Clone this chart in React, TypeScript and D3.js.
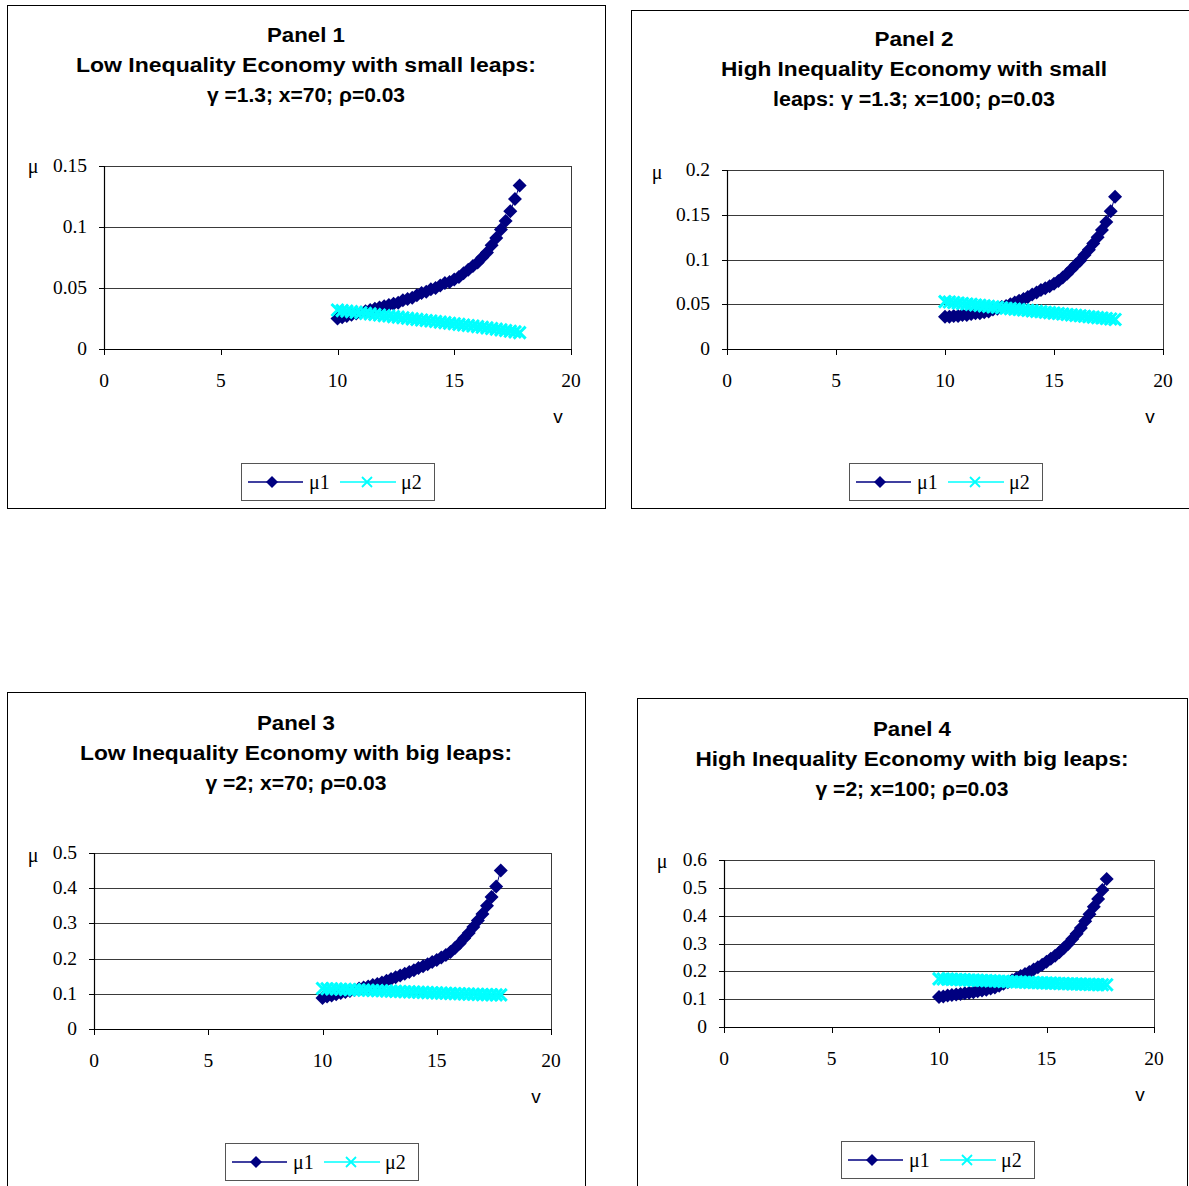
import React, { useEffect } from 'react';
import * as d3 from 'd3';

// v grid shared by every panel
const vValues = [
  10, 10.2, 10.4, 10.6, 10.8, 11, 11.2, 11.4, 11.6, 11.8,
  12, 12.2, 12.4, 12.6, 12.8, 13, 13.2, 13.4, 13.6, 13.8,
  14, 14.2, 14.4, 14.6, 14.8, 15, 15.2, 15.4, 15.6, 15.8,
  16, 16.2, 16.4, 16.6, 16.8, 17, 17.2, 17.4, 17.6, 17.8,
];

const p1Mu1 = [
  0.025, 0.026, 0.027, 0.028, 0.029, 0.030, 0.031, 0.032, 0.033, 0.034,
  0.035, 0.036, 0.037, 0.038, 0.040, 0.041, 0.042, 0.044, 0.046, 0.047,
  0.049, 0.050, 0.052, 0.054, 0.055, 0.057, 0.059, 0.062, 0.065, 0.068,
  0.071, 0.075, 0.079, 0.085, 0.091, 0.098, 0.105, 0.113, 0.123, 0.134,
];
const p1Mu2 = [
  0.032, 0.0315, 0.031, 0.0306, 0.0301, 0.0297, 0.0292, 0.0288, 0.0283, 0.0279,
  0.0274, 0.027, 0.0265, 0.0261, 0.0256, 0.0252, 0.0247, 0.0243, 0.0238, 0.0234,
  0.0229, 0.0225, 0.022, 0.0216, 0.0211, 0.0207, 0.0202, 0.0197, 0.0193, 0.0188,
  0.0183, 0.0178, 0.0173, 0.0168, 0.0163, 0.0157, 0.0152, 0.0146, 0.014, 0.0134,
];

const p2Mu1 = [
  0.036, 0.036, 0.037, 0.037, 0.038, 0.038, 0.039, 0.040, 0.040, 0.041,
  0.042, 0.044, 0.045, 0.047, 0.048, 0.050, 0.052, 0.054, 0.056, 0.058,
  0.061, 0.063, 0.066, 0.068, 0.070, 0.073, 0.076, 0.080, 0.084, 0.089,
  0.094, 0.099, 0.105, 0.111, 0.118, 0.125, 0.133, 0.142, 0.154, 0.170,
];
const p2Mu2 = [
  0.053, 0.0525, 0.052, 0.0514, 0.0509, 0.0503, 0.0498, 0.0492, 0.0487, 0.0482,
  0.0476, 0.0471, 0.0466, 0.0461, 0.0456, 0.0451, 0.0446, 0.0441, 0.0436, 0.0431,
  0.0426, 0.0421, 0.0416, 0.0411, 0.0406, 0.0401, 0.0396, 0.0391, 0.0386, 0.0381,
  0.0376, 0.0371, 0.0366, 0.0361, 0.0356, 0.0351, 0.0346, 0.0341, 0.0335, 0.033,
];

const p3Mu1 = [
  0.088, 0.092, 0.095, 0.099, 0.102, 0.105, 0.108, 0.111, 0.115, 0.118,
  0.121, 0.125, 0.128, 0.132, 0.137, 0.142, 0.147, 0.152, 0.157, 0.162,
  0.167, 0.173, 0.178, 0.184, 0.190, 0.196, 0.203, 0.210, 0.219, 0.230,
  0.243, 0.258, 0.273, 0.290, 0.308, 0.327, 0.350, 0.375, 0.405, 0.450,
];
const p3Mu2 = [
  0.115, 0.1145, 0.114, 0.1135, 0.113, 0.1125, 0.112, 0.1115, 0.111, 0.1105,
  0.110, 0.1095, 0.109, 0.1085, 0.108, 0.1075, 0.107, 0.1065, 0.106, 0.1055,
  0.105, 0.1045, 0.104, 0.1035, 0.103, 0.1025, 0.102, 0.1015, 0.101, 0.1005,
  0.100, 0.0995, 0.099, 0.0986, 0.0982, 0.0978, 0.0975, 0.0972, 0.097, 0.0968,
];

const p4Mu1 = [
  0.108, 0.110, 0.113, 0.115, 0.117, 0.119, 0.121, 0.123, 0.125, 0.128,
  0.131, 0.134, 0.138, 0.142, 0.148, 0.155, 0.161, 0.168, 0.175, 0.183,
  0.190, 0.198, 0.207, 0.215, 0.224, 0.234, 0.245, 0.256, 0.269, 0.283,
  0.298, 0.316, 0.335, 0.356, 0.380, 0.405, 0.432, 0.460, 0.492, 0.532,
];
const p4Mu2 = [
  0.173, 0.1724, 0.1718, 0.1712, 0.1706, 0.17, 0.1694, 0.1688, 0.1682, 0.1676,
  0.167, 0.1664, 0.1658, 0.1652, 0.1646, 0.164, 0.1634, 0.1628, 0.1622, 0.1616,
  0.161, 0.1604, 0.1598, 0.1592, 0.1586, 0.158, 0.1575, 0.157, 0.1565, 0.156,
  0.1555, 0.155, 0.1545, 0.154, 0.1536, 0.1532, 0.1528, 0.1524, 0.152, 0.1516,
];

const xTicks = [0, 5, 10, 15, 20];
const seriesNames = ['μ1', 'μ2'];

const titles = [
  ['Panel 1', 'Low Inequality Economy with small leaps:', 'γ =1.3; x=70; ρ=0.03'],
  ['Panel 2', 'High Inequality Economy with small', 'leaps: γ =1.3; x=100; ρ=0.03'],
  ['Panel 3', 'Low Inequality Economy with big leaps:', 'γ =2; x=70; ρ=0.03'],
  ['Panel 4', 'High Inequality Economy with big leaps:', 'γ =2; x=100; ρ=0.03'],
];
const yTickSets = [
  [0, 0.05, 0.1, 0.15],
  [0, 0.05, 0.1, 0.15, 0.2],
  [0, 0.1, 0.2, 0.3, 0.4, 0.5],
  [0, 0.1, 0.2, 0.3, 0.4, 0.5, 0.6],
];
const mu1Sets = [p1Mu1, p2Mu1, p3Mu1, p4Mu1];
const mu2Sets = [p1Mu2, p2Mu2, p3Mu2, p4Mu2];

// layout of each panel (pixels)
const layouts = [
  { box: [7, 5, 598, 503], plot: [104, 166, 571, 349], cx: 306, ty: 42, titleW: [78, 460, 198], legend: [241, 463], v: [558, 423], mu: [33, 173] },
  { box: [631, 10, 570, 498], plot: [727, 170, 1163, 349], cx: 914, ty: 46, titleW: [79, 386, 282], legend: [849, 463], v: [1150, 423], mu: [657, 179] },
  { box: [7, 692, 578, 520], plot: [94, 853, 551, 1029], cx: 296, ty: 730, titleW: [78, 432, 181], legend: [225, 1143], v: [536, 1103], mu: [33, 862] },
  { box: [637, 698, 550, 520], plot: [724, 860, 1154, 1027], cx: 912, ty: 736, titleW: [78, 433, 193], legend: [841, 1141], v: [1140, 1101], mu: [662, 868] },
];

const NAVY = '#000080';
const CYAN = '#00ffff';
const SANS = '"Liberation Sans", Arial, sans-serif';
const SERIF = '"Liberation Serif", "Times New Roman", serif';

const diamond = (x: number, y: number, r: number) =>
  `M${x},${y - r}L${x + r},${y}L${x},${y + r}L${x - r},${y}Z`;
const cross = (x: number, y: number, r: number) =>
  `M${x - r},${y - r}L${x + r},${y + r}M${x - r},${y + r}L${x + r},${y - r}`;

function Panel({ idx }: { idx: number }) {
  const L = layouts[idx];
  const [left, top, right, bottom] = L.plot;
  const yTicks = yTickSets[idx];
  const xScale = d3.scaleLinear().domain([0, 20]).range([left, right]);
  const yScale = d3
    .scaleLinear()
    .domain([0, yTicks[yTicks.length - 1]])
    .range([bottom, top]);
  const mu1 = vValues.map((v, i) => [v, mu1Sets[idx][i]] as [number, number]);
  const mu2 = vValues.map((v, i) => [v, mu2Sets[idx][i]] as [number, number]);
  const line = d3
    .line<[number, number]>()
    .x((d) => xScale(d[0]))
    .y((d) => yScale(d[1]));
  const [lx, ly] = L.legend;

  return (
    <g>
      <rect x={L.box[0] + 0.5} y={L.box[1] + 0.5} width={L.box[2]} height={L.box[3]} fill="#fff" stroke="#000" strokeWidth={1} />
      {titles[idx].map((t, i) => (
        <text key={i} x={L.cx} y={L.ty + i * 30} textAnchor="middle" fontFamily={SANS} fontWeight="bold" fontSize={20} textLength={L.titleW[i]} lengthAdjust="spacingAndGlyphs">
          {t}
        </text>
      ))}
      {/* grid + plot border */}
      {yTicks.slice(1).map((t) => (
        <line key={t} x1={left} x2={right} y1={Math.round(yScale(t)) + 0.5} y2={Math.round(yScale(t)) + 0.5} stroke="#3a3a3a" strokeWidth={1} />
      ))}
      <line x1={right + 0.5} x2={right + 0.5} y1={top} y2={bottom} stroke="#3a3a3a" strokeWidth={1} />
      {/* axes */}
      <line x1={left + 0.5} x2={left + 0.5} y1={top} y2={bottom + 1} stroke="#000" strokeWidth={1.2} />
      <line x1={left} x2={right + 1} y1={bottom + 0.5} y2={bottom + 0.5} stroke="#000" strokeWidth={1.2} />
      {yTicks.map((t) => (
        <g key={t}>
          <line x1={left - 5} x2={left} y1={Math.round(yScale(t)) + 0.5} y2={Math.round(yScale(t)) + 0.5} stroke="#000" />
          <text x={left - 17} y={yScale(t) + 6} textAnchor="end" fontFamily={SERIF} fontSize={19.5}>
            {String(+t.toFixed(2))}
          </text>
        </g>
      ))}
      {xTicks.map((t) => (
        <g key={t}>
          <line x1={Math.round(xScale(t)) + 0.5} x2={Math.round(xScale(t)) + 0.5} y1={bottom} y2={bottom + 6} stroke="#000" />
          <text x={xScale(t)} y={bottom + 38} textAnchor="middle" fontFamily={SERIF} fontSize={19.5}>
            {t}
          </text>
        </g>
      ))}
      <text x={L.mu[0]} y={L.mu[1]} textAnchor="middle" fontFamily={SERIF} fontSize={20}>μ</text>
      <text x={L.v[0]} y={L.v[1]} textAnchor="middle" fontFamily={SANS} fontSize={19}>v</text>
      {/* series */}
      <path d={line(mu1) || ''} fill="none" stroke={NAVY} strokeWidth={1} />
      {mu1.map((d, i) => (
        <path key={i} d={diamond(xScale(d[0]), yScale(d[1]), 7)} fill={NAVY} />
      ))}
      <path d={line(mu2) || ''} fill="none" stroke={CYAN} strokeWidth={1} />
      {mu2.map((d, i) => (
        <path key={i} d={cross(xScale(d[0]), yScale(d[1]), 6)} stroke={CYAN} strokeWidth={3} fill="none" />
      ))}
      {/* legend */}
      <rect x={lx + 0.5} y={ly + 0.5} width={193} height={37} fill="#fff" stroke="#555" />
      <line x1={lx + 7} x2={lx + 62} y1={ly + 19} y2={ly + 19} stroke={NAVY} strokeWidth={1.5} />
      <path d={diamond(lx + 31, ly + 19, 6)} fill={NAVY} />
      <text x={lx + 68} y={ly + 26} fontFamily={SERIF} fontSize={20}>{seriesNames[0]}</text>
      <line x1={lx + 99} x2={lx + 155} y1={ly + 19} y2={ly + 19} stroke={CYAN} strokeWidth={1.5} />
      <path d={cross(lx + 126, ly + 19, 5)} stroke={CYAN} strokeWidth={1.8} fill="none" />
      <text x={lx + 160} y={ly + 26} fontFamily={SERIF} fontSize={20}>{seriesNames[1]}</text>
    </g>
  );
}

export default function App() {
  useEffect(() => {
    document.body.style.margin = '0';
  }, []);
  return (
    <svg width={1189} height={1186} style={{ position: 'absolute', left: 0, top: 0, background: '#fff' }}>
      <rect width={1189} height={1186} fill="#fff" />
      {layouts.map((_, i) => (
        <Panel key={i} idx={i} />
      ))}
    </svg>
  );
}
